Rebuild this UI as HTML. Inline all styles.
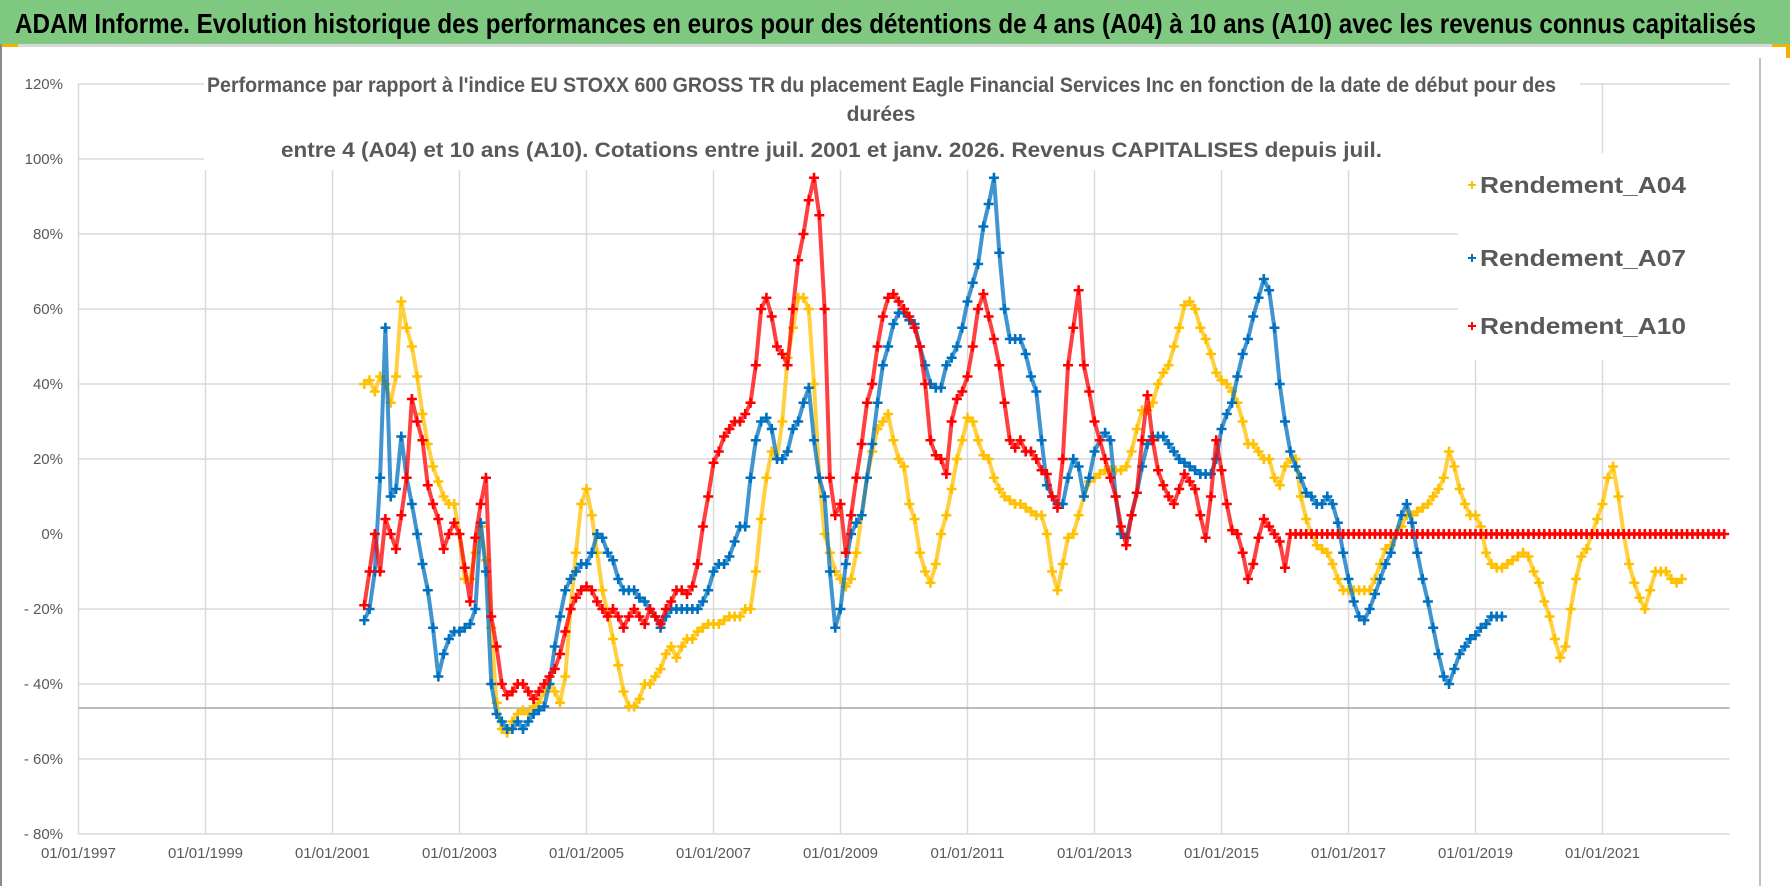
<!DOCTYPE html>
<html><head><meta charset="utf-8"><title>ADAM Informe chart</title>
<style>
html,body{margin:0;padding:0;background:#fff;}
svg{display:block;font-family:"Liberation Sans",Arial,sans-serif;}
</style></head>
<body>
<svg id="chart" width="1790" height="886" viewBox="0 0 1790 886" xmlns="http://www.w3.org/2000/svg">
  <rect x="0" y="0" width="1790" height="886" fill="#fff"/>
  <rect x="0" y="0" width="1790" height="44" fill="#7fc87f"/>
  <text x="15" y="33" font-size="28" font-weight="bold" fill="#000" textLength="1741" lengthAdjust="spacingAndGlyphs">ADAM Informe. Evolution historique des performances en euros pour des détentions de 4 ans (A04) à 10 ans (A10) avec les revenus connus capitalisés</text>
  <rect x="0" y="44" width="1790" height="3" fill="#d9d9d9"/>
  <rect x="0" y="44" width="18" height="3" fill="#f0b400"/>
  <rect x="1772" y="44" width="18" height="3" fill="#f0b400"/>
  <rect x="1786" y="44" width="4" height="14" fill="#f0b400"/>
  <rect x="0" y="44" width="2" height="842" fill="#8c8c8c"/>
  <rect x="1759" y="58" width="2" height="828" fill="#bfbfbf"/>
  <g id="grid"></g>
  <g id="boxes">
    <rect x="204" y="60" width="1376" height="110" fill="#fff"/>
    <rect x="1458" y="153" width="274" height="207" fill="#fff"/>
  </g>
  <g id="axes"></g>
  <g id="series"></g>
  <g font-weight="bold" fill="#595959" font-size="21">
    <text x="207" y="92" textLength="1349" lengthAdjust="spacingAndGlyphs">Performance par rapport à l'indice EU STOXX 600 GROSS TR  du placement Eagle Financial Services Inc en fonction de la date de début pour des</text>
    <text x="881" y="121" text-anchor="middle">durées</text>
    <text x="281" y="157" textLength="1101" lengthAdjust="spacingAndGlyphs">entre 4 (A04) et 10 ans (A10).  Cotations entre juil. 2001 et janv. 2026. Revenus CAPITALISES depuis juil.</text>
  </g>
  <g id="legend"></g>
</svg>
<script>
// ---- data (monthly values, %, starting July 2001) ----
const startYear = 2001;
const startMonth = 7;
const seriesNames = ["Rendement_A04", "Rendement_A07", "Rendement_A10"];
const a04Values = [
40,41,38,42,40,35,
42,62,55,50,42,32,24,18,14,10,8,8,
0,-12,-12,-5,2,-7,-25,-45,-52,-53,-50,-48,
-47,-48,-46,-45,-42,-40,-42,-45,-38,-20,-5,8,
12,5,-5,-15,-21,-28,-35,-42,-46,-46,-44,-40,
-40,-38,-36,-32,-30,-33,-30,-28,-28,-26,-25,-24,
-24,-24,-23,-22,-22,-22,-20,-20,-10,4,15,22,
20,30,47,55,63,63,60,40,15,0,-5,-10,
-12,-14,-12,-5,5,15,22,28,30,32,25,20,
18,8,4,-5,-10,-13,-8,0,5,12,20,25,
31,30,25,21,20,15,12,10,9,8,8,7,
6,5,5,0,-10,-15,-8,-1,0,5,10,14,
15,16,17,17,17,17,18,22,28,33,33,35,
40,43,45,50,55,61,62,60,55,52,48,43,
41,40,38,35,30,24,24,22,20,20,15,13,
18,20,20,10,4,0,-3,-4,-5,-8,-12,-15,
-15,-15,-15,-15,-15,-12,-8,-4,-3,0,2,5,
5,6,7,8,10,12,15,22,18,12,8,5,
5,2,-5,-8,-9,-9,-8,-7,-6,-5,-6,-10,
-13,-18,-22,-28,-33,-30,-20,-12,-6,-4,0,4,
8,15,18,10,0,-8,-13,-17,-20,-15,-10,-10,
-10,-12,-13,-12
];
const a07Values = [
-23,-20,-10,15,55,10,
12,26,15,8,0,-8,-15,-25,-38,-32,-28,-26,
-26,-25,-24,-20,3,-10,-40,-48,-50,-52,-52,-50,
-52,-50,-48,-47,-46,-40,-30,-22,-15,-12,-10,-8,
-8,-5,0,-1,-5,-7,-12,-15,-15,-15,-17,-18,
-20,-22,-25,-22,-20,-20,-20,-20,-20,-20,-18,-15,
-10,-8,-8,-6,-2,2,2,15,25,30,31,28,
20,20,22,28,30,35,39,25,15,10,-10,-25,
-20,-8,0,3,5,15,24,35,45,50,56,59,
59,57,56,50,45,40,39,39,45,47,50,55,
62,67,72,82,88,95,75,60,52,52,52,48,
42,38,25,13,10,8,8,15,20,18,10,15,
22,25,27,25,10,0,-1,5,11,18,24,26,
26,26,24,22,20,19,18,17,16,16,16,20,
28,32,35,42,48,52,58,63,68,65,55,40,
30,22,18,15,11,10,8,8,10,8,3,-5,
-12,-18,-22,-23,-20,-16,-12,-8,-5,0,5,8,
3,-5,-12,-18,-25,-32,-38,-40,-36,-32,-30,-28,
-27,-25,-24,-22,-22,-22
];
const a10Values = [
-19,-10,0,-10,4,0,
-4,5,15,36,30,25,13,8,4,-4,0,3,
0,-9,-18,-1,8,15,-22,-30,-40,-43,-42,-40,
-40,-42,-44,-42,-40,-38,-36,-32,-26,-20,-17,-15,
-14,-15,-18,-20,-22,-20,-22,-25,-22,-20,-22,-24,
-20,-22,-24,-20,-18,-15,-15,-16,-14,-8,2,10,
19,22,26,28,30,30,32,35,45,60,63,58,
50,48,45,60,73,80,89,95,85,60,15,5,
8,-5,5,15,24,35,40,50,58,63,64,62,
60,58,55,50,40,25,21,20,16,30,36,38,
42,50,60,64,58,52,45,35,25,23,25,22,
22,20,17,16,10,7,20,45,55,65,45,38,
30,25,20,15,10,2,-3,5,11,25,37,25,
17,13,10,8,12,16,14,12,5,-1,10,25,
17,8,1,0,-5,-12,-8,-1,4,2,0,-2,
-9,0,0,0,0,0,0,0,0,0,0,0,
0,0,0,0,0,0,0,0,0,0,0,0,
0,0,0,0,0,0,0,0,0,0,0,0,
0,0,0,0,0,0,0,0,0,0,0,0,
0,0,0,0,0,0,0,0,0,0,0,0,
0,0,0,0,0,0,0,0,0,0,0,0,
0,0,0,0,0,0,0,0,0,0,0,0
];
const yTicks = [120,100,80,60,40,20,0,-20,-40,-60,-80];
const xTickYears = [1997,1999,2001,2003,2005,2007,2009,2011,2013,2015,2017,2019,2021];

// ---- layout / scales ----
const NS = "http://www.w3.org/2000/svg";
const X0 = 78.5, PX_PER_YEAR = 63.5, XMIN = 1997, XMAX = 2023;
const Y_ZERO = 534, PX_PER_PCT = 3.75;
function xScale(t){ return X0 + (t - XMIN) * PX_PER_YEAR; }
function yScale(v){ return Y_ZERO - v * PX_PER_PCT; }
function timeOf(i){ return startYear + (startMonth - 1) / 12 + i / 12; }
const colors = ["#FFC000", "#0070C0", "#FF0000"];
const allSeries = [a04Values, a07Values, a10Values];

function mk(tag, attrs){ const e = document.createElementNS(NS, tag); for (const k in attrs) e.setAttribute(k, attrs[k]); return e; }

// gridlines
const grid = document.getElementById("grid");
yTicks.forEach(v => {
  if (v === 0) return;
  const l = mk("line", {x1: X0, x2: xScale(XMAX), y1: yScale(v), y2: yScale(v), stroke: "#d9d9d9", "stroke-width": 1.5});
  
  
  grid.appendChild(l);
});
xTickYears.forEach(yr => {
  if (yr === XMIN) return;
  const l = mk("line", {x1: xScale(yr), x2: xScale(yr), y1: yScale(120), y2: yScale(-80), stroke: "#d9d9d9", "stroke-width": 1.5});
  
  
  grid.appendChild(l);
});

// axes
const axes = document.getElementById("axes");
const yAxis = mk("line", {x1: X0, x2: X0, y1: yScale(120), y2: yScale(-80), stroke: "#d9d9d9", "stroke-width": 1.5});


axes.appendChild(yAxis);
const refLine = mk("line", {x1: X0, x2: xScale(XMAX), y1: 708, y2: 708, stroke: "#a6a6a6", "stroke-width": 1.5});


axes.appendChild(refLine);
yTicks.forEach(v => {
  const t = mk("text", {x: 63, y: yScale(v) + 5, "text-anchor": "end", "font-size": 15, fill: "#595959"});
  t.textContent = v < 0 ? "- " + (-v) + "%" : v + "%";
  
  
  axes.appendChild(t);
});
xTickYears.forEach(yr => {
  const t = mk("text", {x: xScale(yr), y: 858, "text-anchor": "middle", "font-size": 15, fill: "#595959"});
  t.textContent = "01/01/" + yr;
  
  
  axes.appendChild(t);
});

// series
const layer = document.getElementById("series");
function plus(cx, cy, s){ return "M" + (cx - s) + " " + cy + "H" + (cx + s) + "M" + cx + " " + (cy - s) + "V" + (cy + s); }
allSeries.forEach((vals, si) => {
  const g = mk("g", {});
  
  
  const pts = vals.map((v, i) => xScale(timeOf(i)).toFixed(1) + "," + yScale(v).toFixed(1)).join(" ");
  const pl = mk("polyline", {points: pts, fill: "none", stroke: colors[si], "stroke-width": 4, "stroke-linejoin": "round", opacity: 0.75});
  
  
  g.appendChild(pl);
  let d = "";
  vals.forEach((v, i) => { d += plus(xScale(timeOf(i)), yScale(v), 5); });
  const m = mk("path", {d: d, stroke: colors[si], "stroke-width": 2.6, fill: "none"});
  
  
  g.appendChild(m);
  layer.appendChild(g);
});

// legend
const legend = document.getElementById("legend");
const legendY = [185, 258, 326];
seriesNames.forEach((n, i) => {
  const mkr = mk("path", {d: plus(1472, legendY[i], 4), stroke: colors[i], "stroke-width": 2, fill: "none"});
  
  
  legend.appendChild(mkr);
  const t = mk("text", {x: 1480, y: legendY[i] + 8, "font-size": 23, "font-weight": "bold", fill: "#595959", textLength: 206, lengthAdjust: "spacingAndGlyphs"});
  t.textContent = n;
  
  
  legend.appendChild(t);
});
</script>
</body></html>
